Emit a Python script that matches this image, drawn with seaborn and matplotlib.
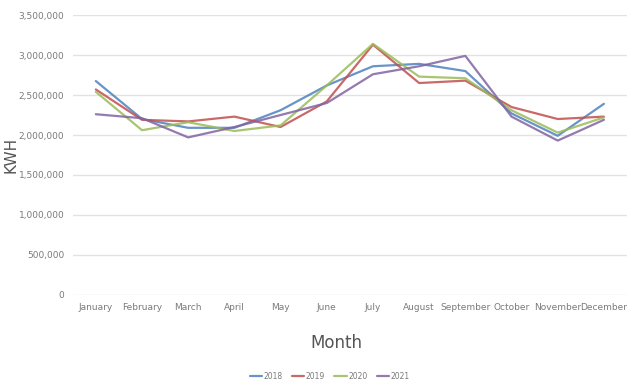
import numpy as np
import pandas as pd
import matplotlib
matplotlib.use('Agg')
import matplotlib.pyplot as plt
import seaborn as sns

# monthly electricity use (KWH)
months = ['January', 'February', 'March', 'April', 'May', 'June', 'July',
          'August', 'September', 'October', 'November', 'December']
years = ['2018', '2019', '2020', '2021']
kwh_2018 = [2675000, 2200000, 2090000, 2090000, 2310000, 2620000, 2860000,
            2890000, 2800000, 2270000, 1990000, 2390000]
kwh_2019 = [2570000, 2190000, 2170000, 2230000, 2100000, 2420000, 3130000,
            2650000, 2680000, 2350000, 2200000, 2230000]
kwh_2020 = [2540000, 2060000, 2160000, 2050000, 2120000, 2620000, 3140000,
            2730000, 2710000, 2310000, 2030000, 2220000]
kwh_2021 = [2260000, 2210000, 1970000, 2100000, 2250000, 2400000, 2760000,
            2860000, 2990000, 2230000, 1930000, 2190000]
yticks = [0, 500000, 1000000, 1500000, 2000000, 2500000, 3000000, 3500000]

colors = ['#4F81BD', '#C0504D', '#9BBB59', '#8064A2']

df = pd.DataFrame({
    'Month': months * 4,
    'KWH': kwh_2018 + kwh_2019 + kwh_2020 + kwh_2021,
    'Year': np.repeat(years, len(months)),
})

sns.set_style('white')
plt.rcParams['font.family'] = ['Liberation Sans Narrow', 'DejaVu Sans']

fig = plt.figure(figsize=(6.27, 3.87), dpi=100)
ax = fig.add_axes([0.116, 0.238, 0.884, 0.723])

sns.lineplot(data=df, x='Month', y='KWH', hue='Year', palette=colors,
             sort=False, linewidth=1.6, alpha=0.85, ax=ax, legend=True)

ax.set_ylim(0, 3500000)
ax.set_xlim(-0.5, 11.5)
ax.set_yticks(yticks)
ax.set_yticklabels(['{:,}'.format(v) for v in yticks])
ax.grid(axis='y', color='#e2e2e2', linewidth=1)
ax.set_axisbelow(True)
for s in ax.spines.values():
    s.set_visible(False)
ax.tick_params(axis='both', length=0, labelsize=6.5, colors='#7a7a7a', pad=6)

ax.set_xlabel('Month', fontsize=12, color='#555555')
ax.set_ylabel('KWH', fontsize=11, color='#555555')
ax.xaxis.set_label_coords(0.475, -0.14)
ax.yaxis.set_label_coords(-0.098, 0.5)

# move legend under the axis title, like the excel one
handles, labels = ax.get_legend_handles_labels()
ax.get_legend().remove()
fig.legend(handles, labels, loc='center', bbox_to_anchor=(0.526, 0.028),
           ncol=4, frameon=False, fontsize=5.5, handlelength=1.6,
           handletextpad=0.2, columnspacing=1.2, labelcolor='#7a7a7a')

fig.savefig('out.png', dpi=100)
